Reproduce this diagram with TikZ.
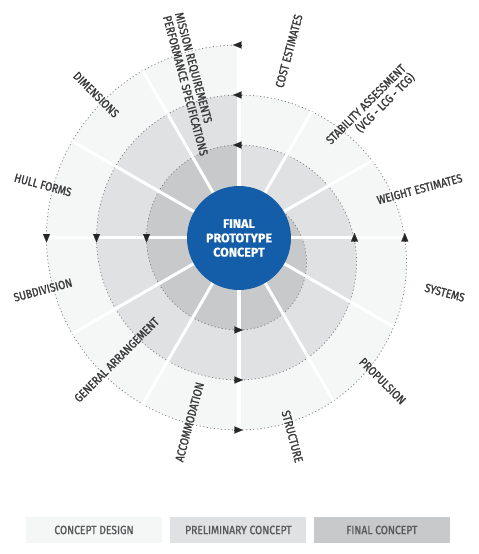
\documentclass[tikz,border=0pt]{standalone}
\usepackage{fontspec}
\setmainfont{Fira Sans}
\newfontfamily\lblfont{Fira Sans}[FakeStretch=0.86, FakeBold=1.4]
\newfontfamily\corefont{Fira Sans}[FakeBold=0.6]
\usetikzlibrary{arrows.meta,positioning}
\definecolor{lightband}{HTML}{F5F6F6}
\definecolor{midband}{HTML}{E0E1E3}
\definecolor{darkband}{HTML}{C8C9CB}
\definecolor{coreblue}{HTML}{145EA9}
\definecolor{lbltext}{HTML}{3A3A3C}
\definecolor{legtext}{HTML}{5A5A5C}
\definecolor{dotgray}{HTML}{858585}
\newcommand{\turnone}{(0,192.5) arc[start angle=90,end angle=270,radius=192.5pt]
  arc[start angle=-90,end angle=90,radius=167.5pt] -- cycle}
\newcommand{\turntwo}{(0,142.5) arc[start angle=90,end angle=270,radius=142.5pt]
  arc[start angle=-90,end angle=90,radius=117.5pt] -- cycle}
\newcommand{\turnthree}{(0,92.5) arc[start angle=90,end angle=270,radius=92.5pt]
  arc[start angle=-90,end angle=90,radius=67.5pt] -- cycle}

\begin{document}
\begin{tikzpicture}[
  x=1pt, y=1pt,
  lbl/.style={font=\lblfont\fontsize{12}{12.5}\selectfont, text=lbltext, inner sep=0pt},
  core/.style={circle, fill=coreblue, text=white, minimum size=104pt, inner sep=0pt,
               align=center, font=\corefont\bfseries\fontsize{12.5}{14.3}\selectfont},
  leg/.style={minimum width=136pt, minimum height=26pt, inner sep=0pt,
              font=\lblfont\fontsize{12}{12}\selectfont, text=legtext},
  spoke/.style={white, line width=3pt},
  spiral/.style={dotgray, line width=0.8pt, dash pattern=on 1.1pt off 2.5pt},
  ringarrow/.style={-{Triangle[length=8.5pt,width=7pt]}, black!85, line width=0.1pt}
]
\useasboundingbox (-239,-316.5) rectangle (240,237.5);

% ---- Bands ----------------------------------------------------------
\fill[lightband] \turnone;
\fill[midband] \turntwo;
\fill[darkband] \turnthree;

% ---- Spiral outline ---------------------------------------------------
\draw[spiral] (0,192.5) arc[start angle=90,end angle=270,radius=192.5pt]
  arc[start angle=-90,end angle=90,radius=167.5pt]
  arc[start angle=90,end angle=270,radius=142.5pt]
  arc[start angle=-90,end angle=90,radius=117.5pt]
  arc[start angle=90,end angle=270,radius=92.5pt]
  arc[start angle=-90,end angle=90,radius=67.5pt];

% ---- Spokes -----------------------------------------------------------
\begin{scope}
\clip \turnone;
\foreach \a in {0,30,...,330} \draw[spoke] (0,0) -- (\a:200);
\end{scope}

% ---- Direction marks --------------------------------------------------
\foreach \r in {192.5,142.5,92.5} {
  \draw[ringarrow] (3,\r) -- (-6,\r);
  \draw[ringarrow] (-\r,4) -- (-\r,-5);
  \draw[ringarrow] (-4.5,-\r) -- (4,-\r);
}
\foreach \x in {115.5,165.8} \draw[ringarrow] (\x,-4.5) -- (\x,4.5);

% ---- Core -------------------------------------------------------------
\node[core] (final) at (0,-0.5) {FINAL\\PROTOTYPE\\CONCEPT};

% ---- Labels -----------------------------------------------------------
\node[lbl, rotate=75] (cost) at (75:193) {COST ESTIMATES};
\node[lbl, rotate=-75, anchor=west, align=left] (mission) at (106.5:233)
  {MISSION REQUIREMENTS\\PERFORMANCE SPECIFICATIONS};
\node[lbl, rotate=-45] (dims) at (135:202) {DIMENSIONS};
\node[lbl, rotate=-15] (hull) at (165:203) {HULL FORMS};
\node[lbl, rotate=15] (subdiv) at (195:203) {SUBDIVISION};
\node[lbl, rotate=45] (genarr) at (225:173) {GENERAL ARRANGEMENT};
\node[lbl, rotate=75] (accom) at (255:191) {ACCOMMODATION};
\node[lbl, rotate=-75] (struct) at (285:206) {STRUCTURE};
\node[lbl, rotate=-45] (prop) at (315:203) {PROPULSION};
\node[lbl, rotate=-15] (sys) at (345:213) {SYSTEMS};
\node[lbl, rotate=15] (weight) at (15:187) {WEIGHT ESTIMATES};
\node[lbl, rotate=45, align=right] (stab) at (44.2:184)
  {STABILITY ASSESSMENT\\(VCG - LCG - TCG)};

% ---- Legend -----------------------------------------------------------
\node[leg, fill=lightband] (lgconcept) at (-145,-292.5) {CONCEPT DESIGN};
\node[leg, fill=midband, right=8pt of lgconcept] (lgprelim) {PRELIMINARY CONCEPT};
\node[leg, fill=darkband, right=7pt of lgprelim] (lgfinal) {FINAL CONCEPT};
\end{tikzpicture}
\end{document}
